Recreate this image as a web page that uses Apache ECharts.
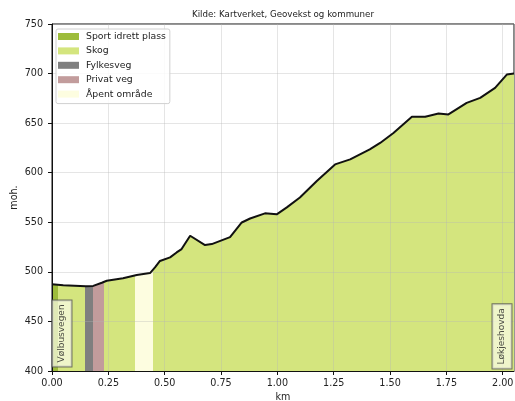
<!DOCTYPE html>
<html>
<head>
<meta charset="utf-8">
<title>Høydeprofil</title>
<script src="https://cdn.jsdelivr.net/npm/echarts@6/dist/echarts.min.js"></script>
<style>
  html, body { margin: 0; padding: 0; background: #fff; }
  #chart { width: 515px; height: 401px; }
</style>
</head>
<body>
<div id="chart"></div>
<script>
// distance along the route (km) and height (moh.)
const distKm = [0.000, 0.050, 0.100, 0.150, 0.183, 0.221, 0.243, 0.315, 0.376, 0.435,
  0.457, 0.479, 0.524, 0.553, 0.575, 0.613, 0.679, 0.709, 0.790, 0.842,
  0.879, 0.945, 0.997, 1.042, 1.100, 1.175, 1.256, 1.323, 1.410, 1.456,
  1.515, 1.597, 1.656, 1.715, 1.759, 1.840, 1.900, 1.966, 2.018, 2.050]
const heightM = [487.5, 486.5, 486.0, 485.5, 485.8, 489.0, 491.0, 493.5, 496.8, 498.8,
  504.5, 511.0, 514.6, 519.6, 523.0, 536.4, 527.0, 528.0, 535.0, 549.8,
  553.8, 559.0, 558.0, 565.0, 575.0, 591.7, 608.4, 613.5, 623.5, 630.0,
  640.0, 656.4, 656.4, 659.8, 658.8, 670.5, 675.5, 685.6, 699.0, 700.0]

// land types and where along the route they lie: [from km, to km, type]
const landTypes = ['Sport idrett plass', 'Skog', 'Fylkesveg', 'Privat veg', 'Åpent område']
const landColors = ['#9dbc3b', '#d4e57e', '#7f7f7f', '#c29c9c', '#fdfde0']
const segments = [
  [0.000, 0.028, 'Sport idrett plass'],
  [0.028, 0.146, 'Skog'],
  [0.146, 0.183, 'Fylkesveg'],
  [0.183, 0.231, 'Privat veg'],
  [0.231, 0.368, 'Skog'],
  [0.368, 0.447, 'Åpent område'],
  [0.447, 2.050, 'Skog']
]
const endNames = ['Vølbusvegen', 'Løkjeshovda']

const yMin = 400
const yMax = 750
const yStep = 50
const xStep = 0.25
const titleText = 'Kilde: Kartverket, Geovekst og kommuner'

const font = 'DejaVu Sans'
const chartInstance = echarts.init(document.getElementById('chart'))

function initChart () {
  const profile = distKm.map((km, i) => [km, heightM[i]])
  const last = distKm.length - 1
  const pieces = segments.map((item, index) => {
    const piece = { gte: item[0], color: landColors[landTypes.indexOf(item[2])] }
    if (index === segments.length - 1) {
      piece.lte = item[1]
    } else {
      piece.lt = item[1]
    }
    return piece
  })
  const legendSeries = landTypes.map((name, index) => {
    return {
      name: name,
      type: 'line',
      data: [],
      itemStyle: { color: landColors[index] },
      lineStyle: { color: landColors[index] }
    }
  })
  const option = {
    animation: false,
    textStyle: { fontFamily: font },
    title: {
      text: titleText,
      left: 283,
      top: 10,
      padding: 0,
      textAlign: 'center',
      textStyle: { fontSize: 8.7, fontWeight: 'normal', color: '#222', fontFamily: font }
    },
    grid: {
      show: true,
      left: 52,
      right: 1,
      top: 24,
      bottom: 30,
      outerBoundsMode: 'none',
      containLabel: false,
      borderColor: '#111',
      borderWidth: 1,
      backgroundColor: 'rgba(0,0,0,0)'
    },
    legend: {
      data: landTypes,
      orient: 'vertical',
      left: 56,
      top: 29,
      icon: 'rect',
      itemWidth: 21,
      itemHeight: 7,
      itemGap: 5.4,
      padding: [3, 4, 5, 2],
      backgroundColor: 'rgba(255,255,255,0.85)',
      borderColor: '#d0d0d0',
      borderWidth: 1,
      borderRadius: 2,
      itemStyle: { borderWidth: 0 },
      textStyle: { fontSize: 9.3, color: '#222', fontFamily: font, padding: [0, 0, 0, 2] }
    },
    visualMap: {
      type: 'piecewise',
      show: false,
      dimension: 0,
      seriesIndex: 0,
      pieces: pieces
    },
    xAxis: {
      type: 'value',
      min: 0,
      max: distKm[last],
      interval: xStep,
      z: 3,
      name: 'km',
      nameLocation: 'middle',
      nameGap: 21,
      nameMoveOverlap: false,
      nameTextStyle: { fontSize: 9.6, color: '#222' },
      axisLine: { show: true, lineStyle: { color: '#111' } },
      axisTick: { show: true, length: 4, lineStyle: { color: '#111' } },
      axisLabel: {
        fontSize: 9.6,
        color: '#222',
        margin: 7,
        showMaxLabel: false,
        formatter: value => value.toFixed(2)
      },
      splitLine: { show: true, lineStyle: { color: 'rgba(180,180,180,0.35)' } }
    },
    yAxis: {
      type: 'value',
      min: yMin,
      max: yMax,
      interval: yStep,
      z: 3,
      name: 'moh.',
      nameLocation: 'middle',
      nameGap: 33,
      nameMoveOverlap: false,
      nameTextStyle: { fontSize: 9.6, color: '#222' },
      axisLine: { show: true, lineStyle: { color: '#111' } },
      axisTick: { show: true, length: 4, lineStyle: { color: '#111' } },
      axisLabel: { fontSize: 9.6, color: '#222', margin: 9 },
      splitLine: { show: true, lineStyle: { color: 'rgba(180,180,180,0.35)' } }
    },
    series: [
      {
        name: 'fill',
        type: 'line',
        data: profile,
        showSymbol: false,
        silent: true,
        z: 2,
        lineStyle: { width: 0 },
        areaStyle: { opacity: 1, origin: 'start' }
      },
      {
        name: 'profile',
        type: 'line',
        data: profile,
        showSymbol: false,
        silent: true,
        z: 4,
        lineStyle: { color: '#111', width: 2 }
      },
      {
        name: 'ends',
        type: 'scatter',
        z: 5,
        silent: true,
        symbolSize: 1,
        itemStyle: { color: 'rgba(0,0,0,0)' },
        label: {
          show: true,
          rotate: 90,
          align: 'left',
          fontSize: 9,
          color: '#222',
          backgroundColor: 'rgba(250,251,232,0.9)',
          borderColor: '#555',
          borderWidth: 1,
          padding: [5, 4]
        },
        data: [
          {
            value: [distKm[0], yMin],
            label: { formatter: endNames[0], position: [1, -4], verticalAlign: 'top' }
          },
          {
            value: [distKm[last], yMin],
            label: { formatter: endNames[1], position: [-2, -2], verticalAlign: 'bottom' }
          }
        ]
      }
    ].concat(legendSeries)
  }
  chartInstance.setOption(option)
}

initChart()
</script>
</body>
</html>
